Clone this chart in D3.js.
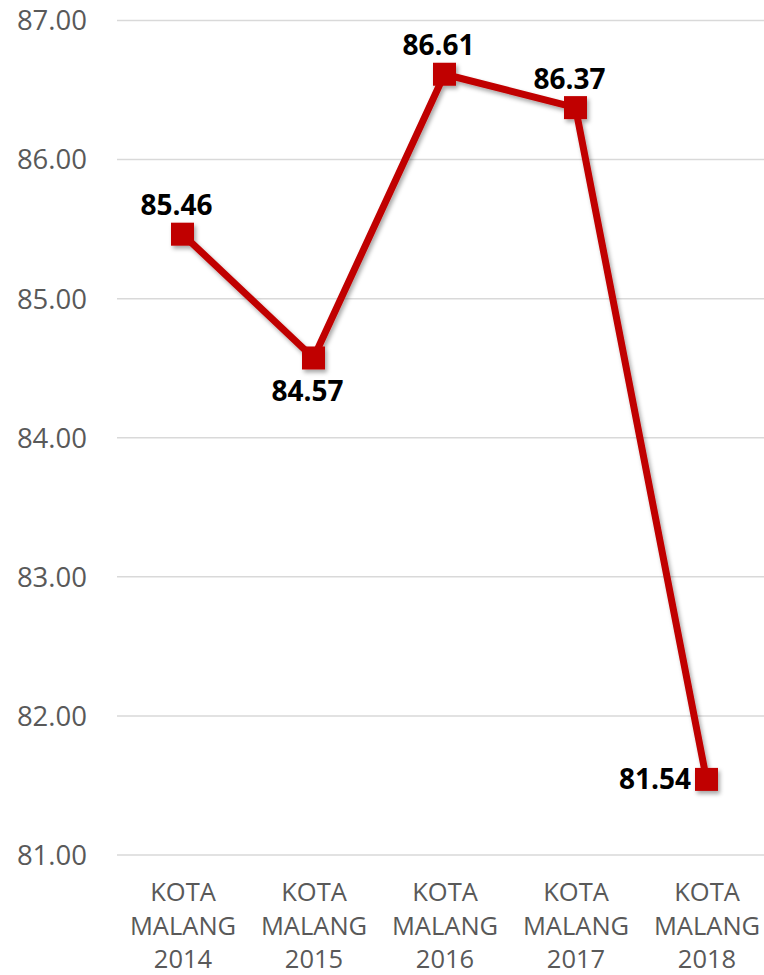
<!DOCTYPE html>
<html>
<head>
<meta charset="utf-8">
<script src="https://cdn.jsdelivr.net/npm/d3@7"></script>
<style>
  html, body { margin: 0; padding: 0; background: #fff; }
  svg { display: block; }
</style>
</head>
<body>
<svg id="chart" width="764" height="975"></svg>
<script>
const categories = ["KOTA MALANG 2014", "KOTA MALANG 2015", "KOTA MALANG 2016", "KOTA MALANG 2017", "KOTA MALANG 2018"];
const values = [85.46, 84.57, 86.61, 86.37, 81.54];
const yTicks = [81, 82, 83, 84, 85, 86, 87];

(function () {
const svg = d3.select("#chart");
const W = 764, H = 975;
const mLeft = 117, mRight = 772, mTop = 20, mBottom = 854.5;

const x = d3.scalePoint().domain(categories).range([mLeft, mRight]).padding(0.5);
const y = d3.scaleLinear().domain([81, 87]).range([mBottom, mTop]);

const defs = svg.append("defs");
const f = defs.append("filter").attr("id", "shadow")
  .attr("x", "-20%").attr("y", "-20%").attr("width", "140%").attr("height", "140%");
f.append("feDropShadow").attr("dx", 2).attr("dy", 3).attr("stdDeviation", 2.2)
  .attr("flood-color", "#000").attr("flood-opacity", 0.35);

// gridlines
const yAxis = d3.axisLeft(y).tickValues(yTicks).tickSize(-(W - mLeft)).tickFormat(d3.format(".2f"));
const gy = svg.append("g").attr("transform", `translate(${mLeft},0)`).call(yAxis);
gy.select(".domain").remove();
gy.selectAll(".tick line").attr("stroke", "#d9d9d9").attr("stroke-width", 1.5);
gy.selectAll(".tick text")
  .attr("x", -30)
  .attr("dy", "0.36em")
  .attr("fill", "#595959")
  .style("font-family", "'Open Sans', sans-serif")
  .style("font-size", "27.5px")
  .attr("text-anchor", "end");

// category labels
const xAxis = d3.axisBottom(x).tickSize(0).tickFormat("");
const gx = svg.append("g").attr("transform", `translate(0,${mBottom})`).call(xAxis);
gx.select(".domain").remove();
gx.selectAll(".tick").each(function(d) {
  const words = d.split(" ");
  const lines = [words[0], words[1], words.slice(2).join(" ")];
  const t = d3.select(this).append("text")
    .attr("text-anchor", "middle")
    .attr("fill", "#595959")
    .style("font-family", "'Open Sans', sans-serif")
    .style("font-size", "25.5px");
  lines.forEach((l, i) => {
    t.append("tspan").attr("x", 0).attr("y", 46.5 + i * 33.5).text(l);
  });
});

// line
const data = categories.map((c, i) => ({ c, v: values[i], i }));
const line = d3.line().x(d => x(d.c)).y(d => y(d.v));
const series = svg.append("g").attr("filter", "url(#shadow)");
series.append("path").datum(data)
  .attr("d", line)
  .attr("fill", "none")
  .attr("stroke", "#C00000")
  .attr("stroke-width", 7)
  .attr("stroke-linejoin", "round");

const ms = 23;
series.selectAll("rect").data(data).enter().append("rect")
  .attr("x", d => x(d.c) - ms / 2)
  .attr("y", d => y(d.v) - ms / 2)
  .attr("width", ms).attr("height", ms)
  .attr("fill", "#C00000");

// data labels
function placement(d) {
  const n = data.length;
  if (d.i === n - 1) return "left";
  const prev = d.i > 0 ? data[d.i - 1].v : Infinity;
  const next = d.i < n - 1 ? data[d.i + 1].v : Infinity;
  if (d.v < prev && d.v < next) return "below";
  return "above";
}
svg.append("g").selectAll("text").data(data).enter().append("text")
  .style("font-family", "'Open Sans', sans-serif")
  .style("font-weight", "bold")
  .style("font-size", "28px")
  .attr("fill", "#000")
  .each(function(d) {
    const p = placement(d);
    const t = d3.select(this);
    const px = x(d.c), py = y(d.v);
    if (p === "left") {
      t.attr("text-anchor", "end").attr("x", px - ms / 2 - 4).attr("y", py + 10);
    } else if (p === "below") {
      t.attr("text-anchor", "middle").attr("x", px - 6).attr("y", py + 43);
    } else {
      t.attr("text-anchor", "middle").attr("x", px - 6).attr("y", py - 19);
    }
  })
  .text(d => d.v.toFixed(2));
})();
</script>
</body>
</html>
